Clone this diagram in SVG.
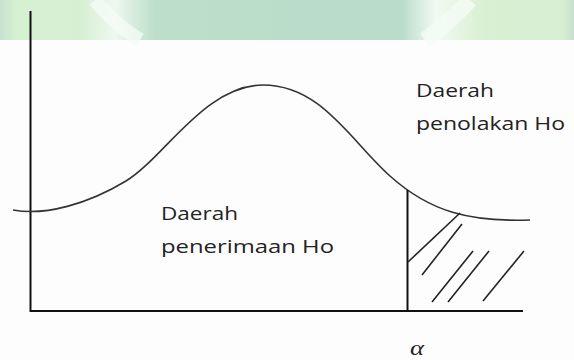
<svg xmlns="http://www.w3.org/2000/svg" width="574" height="360" viewBox="0 0 574 360">
<style>
.ax{stroke:#111;stroke-width:2;fill:none}
.cv{stroke:#333;stroke-width:1.6;fill:none}
.ht{stroke:#222;stroke-width:1.6;fill:none}
.lb{font-family:"Open Sans","Noto Sans",sans-serif;font-size:17.5px;fill:#222}
.al{font-family:"Liberation Serif",serif;font-style:italic;font-size:20px;fill:#222}
</style>
<defs>
<linearGradient id="wm" x1="0" y1="0" x2="1" y2="0">
<stop offset="0" stop-color="#c6e2cf"/>
<stop offset="0.03" stop-color="#d6f0d2"/>
<stop offset="0.14" stop-color="#d6efd3"/>
<stop offset="0.2" stop-color="#eef8ef"/>
<stop offset="0.27" stop-color="#bcdeca"/>
<stop offset="0.7" stop-color="#b9dccb"/>
<stop offset="0.76" stop-color="#f2faf3"/>
<stop offset="0.84" stop-color="#daf0d3"/>
<stop offset="0.98" stop-color="#d8eed2"/>
<stop offset="1" stop-color="#c8dfcc"/>
</linearGradient>
</defs>
<rect x="0" y="0" width="574" height="360" fill="#fdfdfd"/>
<g id="watermark">
<rect x="0" y="0" width="574" height="40" fill="url(#wm)"/>
<path d="M95,0 Q115,25 140,40" stroke="#f4fbf5" stroke-width="14" fill="none" opacity="0.8"/>
<path d="M470,0 Q450,22 425,40" stroke="#f4fbf5" stroke-width="16" fill="none" opacity="0.8"/>
</g>
<g id="axes">
<line class="ax" x1="30.5" y1="11" x2="30.5" y2="312"/>
<line class="ax" x1="30" y1="311" x2="523" y2="311"/>
</g>
<g id="curve">
<path class="cv" d="M13,210 C45,216 88,204 126,181 S205,85 263,85 S350,140 390,176 S470,222 530,220"/>
</g>
<g id="rejection-region">
<line class="ax" x1="407.5" y1="190" x2="407.5" y2="311"/>
<line class="ht" x1="408" y1="262" x2="460" y2="213"/>
<line class="ht" x1="422" y1="275" x2="462" y2="224"/>
<line class="ht" x1="432" y1="302" x2="473" y2="251"/>
<line class="ht" x1="448" y1="302" x2="489" y2="251"/>
<line class="ht" x1="483" y1="301" x2="524" y2="251"/>
</g>
<g id="label-rejection">
<text class="lb" x="416" y="97" textLength="78" lengthAdjust="spacingAndGlyphs">Daerah</text>
<text class="lb" x="416" y="130" textLength="149" lengthAdjust="spacingAndGlyphs">penolakan Ho</text>
</g>
<g id="label-acceptance">
<text class="lb" x="161" y="220" textLength="77" lengthAdjust="spacingAndGlyphs">Daerah</text>
<text class="lb" x="161" y="253" textLength="173" lengthAdjust="spacingAndGlyphs">penerimaan Ho</text>
</g>
<g id="label-alpha">
<text class="al" x="410" y="355" textLength="14" lengthAdjust="spacingAndGlyphs">α</text>
</g>
</svg>
